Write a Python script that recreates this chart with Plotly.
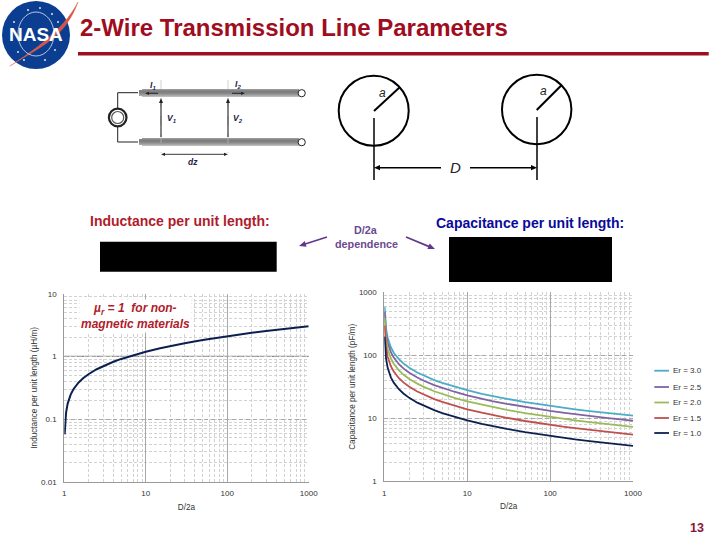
import math
import plotly.graph_objects as go

# ---- data ----
d_over_2a = [1.01, 1.02, 1.05, 1.1, 1.2, 1.3, 1.5, 1.7, 2, 2.5, 3, 4, 5, 7, 10, 15, 20, 30, 50, 70, 100, 150, 200, 300, 500, 700, 1000]
inductance = [.057, .080, .126, .177, .249, .303, .385, .449, .527, .627, .705, .825, .917, 1.054, 1.197, 1.360, 1.475, 1.638, 1.842, 1.977, 2.119, 2.282, 2.397, 2.559, 2.763, 2.898, 3.040]
cap_30 = [590, 418, 265, 188, 134, 110, 86.7, 74.3, 63.3, 53.2, 47.3, 40.4, 36.4, 31.7, 27.9, 24.5, 22.6, 20.4, 18.1, 16.9, 15.7, 14.6, 13.9, 13.0, 12.1, 11.5, 11.0]
cap_25 = [492, 348, 221, 157, 112, 91.9, 72.2, 61.9, 52.8, 44.4, 39.4, 33.7, 30.3, 26.4, 23.2, 20.4, 18.8, 17.0, 15.1, 14.1, 13.1, 12.2, 11.6, 10.9, 10.1, 9.59, 9.14]
cap_20 = [394, 279, 177, 125, 89.3, 73.5, 57.8, 49.5, 42.2, 35.5, 31.5, 26.9, 24.3, 21.1, 18.6, 16.4, 15.1, 13.6, 12.1, 11.3, 10.5, 9.75, 9.28, 8.69, 8.05, 7.67, 7.31]
cap_15 = [296, 209, 132, 94, 67, 55.1, 43.3, 37.1, 31.7, 26.6, 23.7, 20.2, 18.2, 15.8, 13.9, 12.3, 11.3, 10.2, 9.06, 8.44, 7.87, 7.31, 6.96, 6.52, 6.04, 5.76, 5.49]
cap_10 = [197, 139, 88.3, 62.7, 44.7, 36.8, 28.9, 24.8, 21.1, 17.7, 15.8, 13.5, 12.1, 10.6, 9.29, 8.18, 7.54, 6.79, 6.04, 5.63, 5.25, 4.87, 4.64, 4.35, 4.02, 3.84, 3.66]
cap_names = ["Er = 3.0", "Er = 2.5", "Er = 2.0", "Er = 1.5", "Er = 1.0"]
cap_series = [cap_30, cap_25, cap_20, cap_15, cap_10]
cap_colors = ["#4bacc6", "#8064a2", "#9bbb59", "#c0504d", "#0c2050"]
left_yticks = [0.01, 0.1, 1, 10]
left_ylabels = ["0.01", "0.1", "1", "10"]
right_yticks = [1, 10, 100, 1000]
right_ylabels = ["1", "10", "100", "1000"]
xticks = [1, 10, 100, 1000]
xlabels = ["1", "10", "100", "1000"]

W, H = 720, 540
FONT = "Liberation Sans"
RED = "#a00c20"
PURPLE = "#63388c"
GREY_TXT = "#333333"


def px(x):
    return x / W


def py(y):
    return 1 - y / H


shapes, annots = [], []


def line(x0, y0, x1, y1, color="black", w=1.5, dash=None, layer="above"):
    shapes.append(dict(type="line", xref="paper", yref="paper", x0=px(x0), y0=py(y0), x1=px(x1), y1=py(y1),
                       line=dict(color=color, width=w, dash=dash), layer=layer))


def rect(x0, y0, x1, y1, fill):
    shapes.append(dict(type="rect", xref="paper", yref="paper", x0=px(x0), y0=py(y0), x1=px(x1), y1=py(y1),
                       fillcolor=fill, line=dict(width=0)))


def circle(cx, cy, r, color="black", w=1.5, fill=None):
    shapes.append(dict(type="circle", xref="paper", yref="paper", x0=px(cx - r), y0=py(cy - r), x1=px(cx + r),
                       y1=py(cy + r), line=dict(color=color, width=w), fillcolor=fill))


def text(x, y, s, size, color="black", bold=False, italic=False, anchor="center", bg=None, textangle=0):
    t = s
    if bold:
        t = f"<b>{t}</b>"
    if italic:
        t = f"<i>{t}</i>"
    annots.append(dict(xref="paper", yref="paper", x=px(x), y=py(y), text=t, showarrow=False, xanchor=anchor,
                       yanchor="middle", textangle=textangle, bgcolor=bg,
                       font=dict(family=FONT, size=size, color=color)))


def head(x0, y0, x1, y1, color, length=6.0, half=2.6):
    d = math.hypot(x1 - x0, y1 - y0)
    ux, uy = (x1 - x0) / d, (y1 - y0) / d
    bx, by = x1 - ux * length, y1 - uy * length
    ax_, ay_ = bx - uy * half, by + ux * half
    cx_, cy_ = bx + uy * half, by - ux * half
    shapes.append(dict(type="path", xref="paper", yref="paper",
                       path=f"M {px(x1)} {py(y1)} L {px(ax_)} {py(ay_)} L {px(cx_)} {py(cy_)} Z",
                       fillcolor=color, line=dict(width=0)))


def arrow(x0, y0, x1, y1, color="black", w=1.5, length=6.0, half=2.6):
    d = math.hypot(x1 - x0, y1 - y0)
    ex, ey = x1 - (x1 - x0) / d * length * 0.8, y1 - (y1 - y0) / d * length * 0.8
    line(x0, y0, ex, ey, color, w)
    head(x0, y0, x1, y1, color, length, half)


# ---- header ----
shapes.append(dict(type="circle", xref="paper", yref="paper", x0=px(2), y0=py(1), x1=px(70), y1=py(69),
                   fillcolor="#0b3d91", line=dict(width=0)))
shapes.append(dict(type="path", xref="paper", yref="paper", layer="above",
                   path=f"M {px(10)} {py(66)} C {px(34)} {py(50)}, {px(62)} {py(32)}, {px(78)} {py(2)} "
                        f"C {px(66)} {py(36)}, {px(42)} {py(46)}, {px(10)} {py(66)} Z",
                   fillcolor="#d9533f", line=dict(color="#e0705c", width=0.5)))
shapes.append(dict(type="circle", xref="paper", yref="paper", x0=px(18), y0=py(12), x1=px(54), y1=py(56),
                   line=dict(color="white", width=0.7)))
for sx, sy in [(28, 10), (40, 8), (14, 22), (58, 22), (52, 14), (18, 52), (55, 50), (45, 60), (24, 60)]:
    circle(sx, sy, 0.7, "white", 0.5, "white")
text(36, 35, "NASA", 19, "white", bold=True)
text(293.5, 28, "2-Wire Transmission Line Parameters", 24, RED, bold=True)
line(78, 53.7, 708.7, 53.7, RED, 3.5)

# ---- transmission line sketch ----
for top in (89, 138):
    for i, shade in enumerate(["#9a9a9a", "#868686", "#7e7e7e", "#808080", "#8a8a8a", "#989898", "#a8a8a8", "#bcbcbc"]):
        rect(139 if 0 < i < 7 else 142, top + i, 299, top + i + 1, shade)
    circle(301.7, top + 4.2, 3.6, "#222222", 1, "white")
line(138, 92.7, 117.7, 92.7, "#222222", 1)
line(117.7, 92.7, 117.7, 108, "#222222", 1)
line(117.7, 127, 117.7, 142, "#222222", 1)
line(117.7, 142, 138, 142, "#222222", 1)
circle(117.7, 117.5, 8.8, "#222222", 2.2, "white")
circle(117.7, 117.5, 6, "#555555", 1.2, "white")
for vx in (161, 228):
    line(vx, 80, vx, 153, "#bbbbbb", 0.7, "dash")
    arrow(vx, 137, vx, 98, "#222222", 1.1, 5, 2)
arrow(194, 154.3, 228, 154.3, "#222222", 0.9, 4, 1.6)
arrow(194, 154.3, 161, 154.3, "#222222", 0.9, 4, 1.6)
arrow(158, 93.3, 145, 93.3, "#222222", 1, 4, 1.6)
arrow(232, 93.3, 245, 93.3, "#222222", 1, 4, 1.6)
text(152.7, 85, "I<sub>1</sub>", 8.5, "#222244", bold=True, italic=True)
text(237.7, 84.3, "I<sub>2</sub>", 8.5, "#222244", bold=True, italic=True)
text(171, 118, "V<sub>1</sub>", 8.5, "#222244", bold=True, italic=True)
text(238, 118, "V<sub>2</sub>", 8.5, "#222244", bold=True, italic=True)
text(193, 162, "dz", 8.5, "#222244", bold=True, italic=True)

# ---- two-wire cross section ----
circle(373.7, 110.7, 35, "black", 2)
circle(536.7, 109.5, 34.7, "black", 2)
line(374, 111, 400, 87, "black", 2)
line(536.7, 110, 561.7, 85, "black", 2)
line(374, 118, 374, 180, "black", 1.5)
line(537, 117, 537, 180, "black", 1.5)
arrow(441, 167.7, 374, 167.7, "black", 1.5)
arrow(470, 167.7, 537, 167.7, "black", 1.5)
text(382, 93, "a", 12, "#222222", italic=True)
text(543, 91, "a", 12, "#222222", italic=True)
text(455, 167, "D", 15, "#222222", italic=True)

# ---- equation row ----
text(179.5, 221, "Inductance per unit length:", 14, "#b01c2c", bold=True)
text(530, 223, "Capacitance per unit length:", 14, "#0a0a9a", bold=True)
rect(100, 241.7, 276.7, 271.7, "black")
rect(449, 237, 612, 282, "black")
text(366, 230, "D/2a", 10.8, "#6a4a90", bold=True)
text(366, 244, "dependence", 10.8, "#6a4a90", bold=True)
arrow(327, 237, 299, 246, PURPLE, 1.7, 7, 3)
arrow(406, 237, 435, 249, PURPLE, 1.7, 7, 3)

# ---- plots ----
fig = go.Figure()
fig.add_trace(go.Scatter(x=d_over_2a, y=inductance, mode="lines", line=dict(color="#0c2050", width=2),
                         xaxis="x", yaxis="y", showlegend=False))
for name, vals, col in zip(cap_names, cap_series, cap_colors):
    fig.add_trace(go.Scatter(x=d_over_2a, y=vals, mode="lines", name=name, line=dict(color=col, width=1.8),
                             xaxis="x2", yaxis="y2", showlegend=False))

line(64.3, 356.3, 308.7, 356.3, "#8a8a8a", 1.2, layer="below")
text(135, 316, "µ<sub>r</sub> = 1  for non-<br>magnetic materials", 12, "#b01c2c", bold=True, italic=True, bg="white")

legend_y = [370.7, 387, 402.5, 418, 433]
for name, col, ly in zip(cap_names, cap_colors, legend_y):
    line(654.3, ly, 669, ly, col, 1.8)
    text(671, ly, name, 8, GREY_TXT, anchor="left")
text(697, 528, "13", 12.5, "#8b1538", bold=True)


def axis(domain, rng, vals, labels, title, standoff, griddash, labelgap, **extra):
    return dict(type="log", domain=domain, range=rng, tickmode="array", tickvals=vals, ticktext=labels,
                tickfont=dict(family=FONT, size=8, color=GREY_TXT), ticklabelstandoff=labelgap,
                title=dict(text=title, font=dict(family=FONT, size=8.2, color=GREY_TXT), standoff=standoff),
                showgrid=True, gridcolor="#a8a8a8", gridwidth=1, griddash=griddash, zeroline=False,
                showline=True, linecolor="#999999", linewidth=1, ticks="", automargin=False,
                minor=dict(showgrid=True, gridcolor="#d2d2d2", griddash="3px,2px", gridwidth=0.8, dtick="D1", ticks=""),
                **extra)


fig.update_layout(
    width=W, height=H, autosize=False, margin=dict(l=0, r=0, t=0, b=0),
    paper_bgcolor="white", plot_bgcolor="rgba(0,0,0,0)", showlegend=False,
    shapes=shapes, annotations=annots,
    xaxis=axis([px(64.3), px(308.7)], [0, 3], xticks, xlabels, "D/2a", 6, "solid", 4, anchor="y"),
    yaxis=axis([py(481.7), py(294)], [-2, 1], left_yticks, left_ylabels,
               "Inductance per unit length (µH/m)", 2, "4px,3px", 5, anchor="x"),
    xaxis2=axis([px(384.3), px(633)], [0, 3], xticks, xlabels, "D/2a", 6, "solid", 4, anchor="y2"),
    yaxis2=axis([py(481.3), py(292.3)], [0, 3], right_yticks, right_ylabels,
                "Capacitance per unit length (pF/m)", 2, "4px,3px", 5, anchor="x2"),
)
fig.write_html("out.html", config=dict(displayModeBar=False), post_script="document.body.style.margin='0';")
